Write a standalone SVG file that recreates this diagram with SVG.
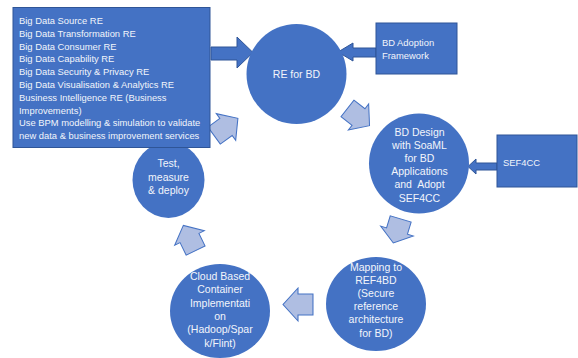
<svg xmlns="http://www.w3.org/2000/svg" width="578" height="358" viewBox="0 0 578 358">
<style>
.c{fill:#4472C4}
.bx{fill:#4472C4;stroke:#2F5597;stroke-width:1}
.la{fill:#AFBEE2;stroke:#4472C4;stroke-width:1;stroke-linejoin:miter}
.da{fill:#4472C4;stroke:#2F5597;stroke-width:1}
text{font-family:"Liberation Sans",Arial,sans-serif;fill:#F2F5FB}
.t{font-size:9.4px}
.m{font-size:10.5px;text-anchor:middle}
</style>
<defs>
<path id="arr" d="M -14,-10.5 L 0,-10.5 L 0,-16.5 L 14,0 L 0,16.5 L 0,10.5 L -14,10.5 Z"/>
</defs>
<rect width="578" height="358" fill="#FFFFFF"/>

<g id="node-test">
<ellipse class="c" cx="168.5" cy="180" rx="36" ry="38"/>
<text class="m" x="168.5" y="167">Test,</text>
<text class="m" x="168.5" y="180.5">measure</text>
<text class="m" x="168.5" y="194">&amp; deploy</text>
</g>

<g id="connectors">
<use href="#arr" class="la" transform="translate(226,127) rotate(-36) scale(1.05,1)"/>
<use href="#arr" class="la" transform="translate(358.5,117) rotate(38)"/>
<use href="#arr" class="la" transform="translate(397,231) rotate(107) scale(0.9,1.04)"/>
<use href="#arr" class="la" transform="translate(298,304.5) rotate(180) scale(1.07,1)"/>
<use href="#arr" class="la" transform="translate(189.5,238) rotate(-116)"/>
<path class="da" d="M 211,47 L 237,47 L 237,37 L 253,52.5 L 237,68 L 237,60 L 211,60 Z"/>
<path class="da" d="M 376,48 L 353,48 L 353,43 L 338,52 L 353,61 L 353,57 L 376,57 Z"/>
<path class="da" d="M 497,163 L 476,163 L 476,159 L 468,166.5 L 476,174 L 476,170 L 497,170 Z"/>
</g>

<g id="node-list">
<rect class="bx" x="13" y="7.5" width="197" height="140"/>
<text class="t" x="19" y="24">Big Data Source RE</text>
<text class="t" x="19" y="36.8">Big Data Transformation RE</text>
<text class="t" x="19" y="49.6">Big Data Consumer RE</text>
<text class="t" x="19" y="62.4">Big Data Capability RE</text>
<text class="t" x="19" y="75.2">Big Data Security &amp; Privacy RE</text>
<text class="t" x="19" y="88">Big Data Visualisation &amp; Analytics RE</text>
<text class="t" x="19" y="100.8">Business Intelligence RE (Business</text>
<text class="t" x="19" y="113.6">Improvements)</text>
<text class="t" x="19" y="126.4">Use BPM modelling &amp; simulation to validate</text>
<text class="t" x="19" y="139.2">new data &amp; business improvement services</text>
</g>

<g id="node-re">
<circle class="c" cx="296.5" cy="74" r="50"/>
<text class="m" x="296.5" y="78">RE for BD</text>
</g>

<g id="node-adoption">
<rect class="bx" x="376" y="23" width="81" height="51"/>
<text class="t" x="382" y="46">BD Adoption</text>
<text class="t" x="382" y="58.5">Framework</text>
</g>

<g id="node-design">
<circle class="c" cx="419" cy="163.5" r="50"/>
<text class="m" x="419.5" y="135.5">BD Design</text>
<text class="m" x="419.5" y="148.7">with SoaML</text>
<text class="m" x="419.5" y="161.9">for BD</text>
<text class="m" x="419.5" y="175.1">Applications</text>
<text class="m" x="419.5" y="188.3" xml:space="preserve">and  Adopt</text>
<text class="m" x="419.5" y="201.5">SEF4CC</text>
</g>

<g id="node-sef4cc">
<rect class="bx" x="497" y="135" width="80" height="52"/>
<text class="t" x="503" y="165.5">SEF4CC</text>
</g>

<g id="node-mapping">
<ellipse class="c" cx="376" cy="304" rx="50" ry="47"/>
<text class="m" x="376" y="270.5">Mapping to</text>
<text class="m" x="376" y="283.7">REF4BD</text>
<text class="m" x="376" y="296.9">(Secure</text>
<text class="m" x="376" y="310.1">reference</text>
<text class="m" x="376" y="323.3">architecture</text>
<text class="m" x="376" y="336.5">for BD)</text>
</g>

<g id="node-cloud">
<ellipse class="c" cx="220" cy="311" rx="50" ry="47"/>
<text class="m" x="220" y="280">Cloud Based</text>
<text class="m" x="220" y="293.3">Container</text>
<text class="m" x="220" y="306.6">Implementati</text>
<text class="m" x="220" y="319.9">on</text>
<text class="m" x="220" y="333.2">(Hadoop/Spar</text>
<text class="m" x="220" y="346.5">k/Flint)</text>
</g>
</svg>
